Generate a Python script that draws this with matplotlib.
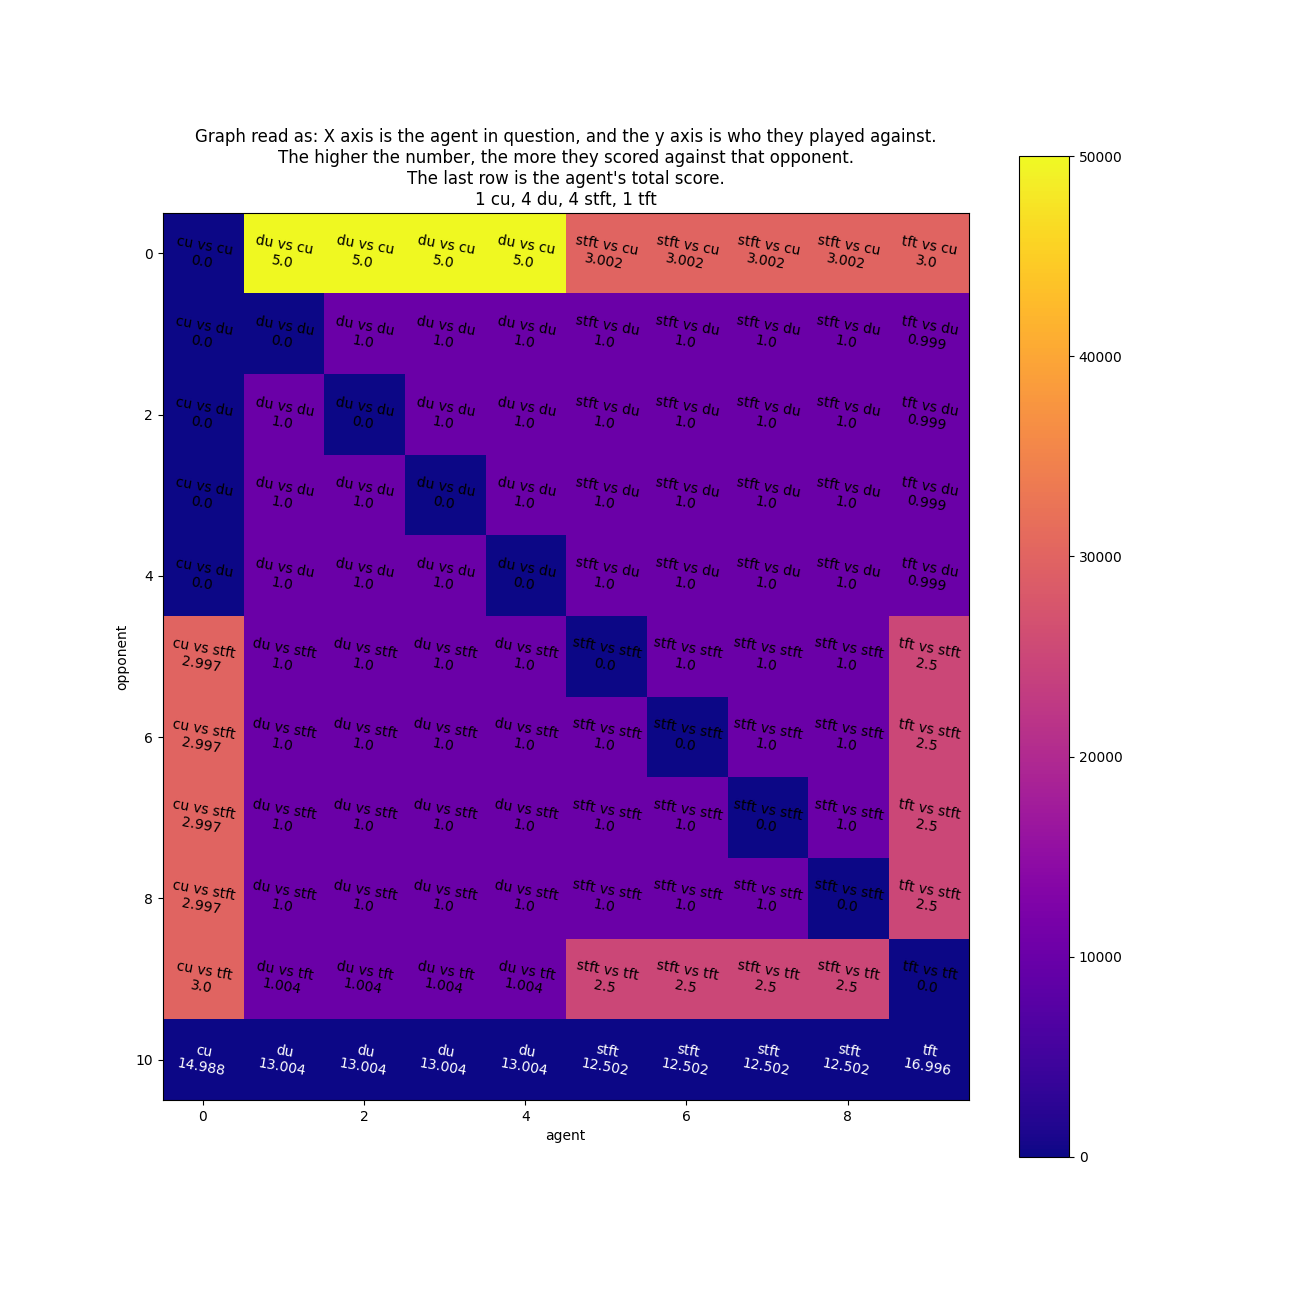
import matplotlib
matplotlib.use("Agg")
import matplotlib.pyplot as plt
import numpy as np

agents = ["cu", "du", "du", "du", "du", "stft", "stft", "stft", "stft", "tft"]
scores = [
    [0.0, 5.0, 5.0, 5.0, 5.0, 3.002, 3.002, 3.002, 3.002, 3.0],
    [0.0, 0.0, 1.0, 1.0, 1.0, 1.0, 1.0, 1.0, 1.0, 0.999],
    [0.0, 1.0, 0.0, 1.0, 1.0, 1.0, 1.0, 1.0, 1.0, 0.999],
    [0.0, 1.0, 1.0, 0.0, 1.0, 1.0, 1.0, 1.0, 1.0, 0.999],
    [0.0, 1.0, 1.0, 1.0, 0.0, 1.0, 1.0, 1.0, 1.0, 0.999],
    [2.997, 1.0, 1.0, 1.0, 1.0, 0.0, 1.0, 1.0, 1.0, 2.5],
    [2.997, 1.0, 1.0, 1.0, 1.0, 1.0, 0.0, 1.0, 1.0, 2.5],
    [2.997, 1.0, 1.0, 1.0, 1.0, 1.0, 1.0, 0.0, 1.0, 2.5],
    [2.997, 1.0, 1.0, 1.0, 1.0, 1.0, 1.0, 1.0, 0.0, 2.5],
    [3.0, 1.004, 1.004, 1.004, 1.004, 2.5, 2.5, 2.5, 2.5, 0.0],
]
totals = [14.988, 13.004, 13.004, 13.004, 13.004, 12.502, 12.502, 12.502, 12.502, 16.996]

grid = np.array(scores) * 10000
grid = np.vstack([grid, totals])

fig = plt.figure(figsize=(13, 13), dpi=100)
plt.imshow(grid, cmap="plasma", vmin=0, vmax=50000)
plt.colorbar()

n = len(agents)
for r in range(n):
    for c in range(n):
        plt.text(c, r, f"{agents[c]} vs {agents[r]}\n{scores[r][c]}",
                 ha="center", va="center", rotation=-10, fontsize=10, color="black")
for c in range(n):
    plt.text(c, n, f"{agents[c]}\n{totals[c]}", ha="center", va="center",
             rotation=-10, fontsize=10, color="white")

plt.title("Graph read as: X axis is the agent in question, and the y axis is who they played against.\n"
          "The higher the number, the more they scored against that opponent.\n"
          "The last row is the agent's total score.\n"
          "1 cu, 4 du, 4 stft, 1 tft", fontsize=12)
plt.xlabel("agent")
plt.ylabel("opponent")
plt.savefig("out.png")
